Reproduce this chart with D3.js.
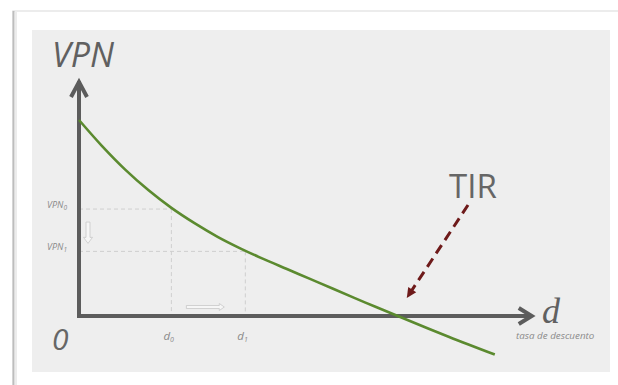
<!DOCTYPE html>
<html><head><meta charset="utf-8">
<script src="https://cdn.jsdelivr.net/npm/d3@7"></script>
<style>
html,body{margin:0;padding:0;background:#fff;}
svg{display:block;}
</style></head>
<body>
<script>
// Data (axis units 0..100)
const discountRates = [0, 5, 10, 15, 20, 25, 30, 35, 40, 45, 50, 55, 62, 69, 80, 90];
const npvValues     = [83.4, 72.3, 62.3, 53.6, 46.0, 39.5, 33.7, 28.7, 24.2, 20.0, 15.8, 11.6, 5.7, 0, -8.8, -16.4];
const refRates      = [20, 36];
const refNPV        = [45.5, 27.5];
const refSubs       = ["0", "1"];
const irrRate       = 69;
const axisMax       = [98, 100];

const W = 618, H = 385;
const svg = d3.select("body").append("svg").attr("width", W).attr("height", H);

// frame
svg.append("rect").attr("x", 13).attr("y", 11).attr("width", 620).attr("height", 390)
  .attr("fill", "#fff").attr("stroke", "#e6e6e6").attr("stroke-width", 1.5);
svg.append("line").attr("x1", 13.5).attr("x2", 13.5).attr("y1", 11).attr("y2", 385)
  .attr("stroke", "#bdbdbd").attr("stroke-width", 2);
svg.append("line").attr("x1", 16).attr("x2", 16).attr("y1", 12).attr("y2", 385)
  .attr("stroke", "#ececec").attr("stroke-width", 2);
svg.append("rect").attr("x", 32).attr("y", 30).attr("width", 578).attr("height", 342)
  .attr("fill", "#eeeeee");

const x = d3.scaleLinear().domain([0, 100]).range([79, 541]);
const y = d3.scaleLinear().domain([0, 100]).range([316, 81]);

// reference dashed lines
const g = svg.append("g");
refRates.forEach((r, i) => {
  g.append("line").attr("x1", x(0)).attr("x2", x(r)).attr("y1", y(refNPV[i])).attr("y2", y(refNPV[i]))
    .attr("stroke", "#cfcfcf").attr("stroke-width", 1).attr("stroke-dasharray", "4,3");
  g.append("line").attr("x1", x(r)).attr("x2", x(r)).attr("y1", y(refNPV[i])).attr("y2", y(0))
    .attr("stroke", "#cfcfcf").attr("stroke-width", 1).attr("stroke-dasharray", "4,3");
  // VPN labels
  const t = g.append("text").attr("x", 67).attr("y", y(refNPV[i]) - 1)
    .attr("text-anchor", "end").attr("font-family", "Open Sans").attr("font-style", "italic")
    .attr("font-size", 9).attr("fill", "#8a8a8a");
  t.append("tspan").text("VPN");
  t.append("tspan").attr("font-size", 6.5).attr("dy", 2).text(refSubs[i]);
  // d labels
  const td = g.append("text").attr("x", x(r) - 8).attr("y", 340)
    .attr("font-family", "Open Sans").attr("font-style", "italic")
    .attr("font-size", 11.5).attr("fill", "#8a8a8a");
  td.append("tspan").text("d");
  td.append("tspan").attr("font-size", 7).attr("dy", 2).text(refSubs[i]);
});

// hollow arrows (decorative)
const ax = x(0) + 9, ay0 = y(refNPV[0]) + 13, ay1 = y(refNPV[1]) - 8;
g.append("path")
  .attr("d", `M${ax-2},${ay0} L${ax+2},${ay0} L${ax+2},${ay1-6} L${ax+4.5},${ay1-6} L${ax},${ay1} L${ax-4.5},${ay1-6} L${ax-2},${ay1-6} Z`)
  .attr("fill", "#f6f6f6").attr("stroke", "#c8c8c8").attr("stroke-width", 0.8);
const bx0 = x(refRates[0]) + 15, bx1 = x(refRates[1]) - 21, by = y(0) - 9;
g.append("path")
  .attr("d", `M${bx0},${by-1.5} L${bx1-5},${by-1.5} L${bx1-5},${by-3.5} L${bx1},${by} L${bx1-5},${by+3.5} L${bx1-5},${by+1.5} L${bx0},${by+1.5} Z`)
  .attr("fill", "#f6f6f6").attr("stroke", "#c8c8c8").attr("stroke-width", 0.8);

// axes
const axisColor = "#5c5c5c";
svg.append("path")
  .attr("d", `M${x(0)},${y(0)+2} L${x(0)},${y(axisMax[1])}`)
  .attr("stroke", axisColor).attr("stroke-width", 4).attr("fill", "none");
svg.append("path")
  .attr("d", `M${x(0)-8},${y(axisMax[1])+16} L${x(0)},${y(axisMax[1])+1} L${x(0)+8},${y(axisMax[1])+16}`)
  .attr("stroke", axisColor).attr("stroke-width", 4).attr("fill", "none").attr("stroke-linejoin", "miter");
svg.append("path")
  .attr("d", `M${x(0)-2},${y(0)} L${x(axisMax[0])},${y(0)}`)
  .attr("stroke", axisColor).attr("stroke-width", 4).attr("fill", "none");
svg.append("path")
  .attr("d", `M${x(axisMax[0])-13},${y(0)-8} L${x(axisMax[0])},${y(0)} L${x(axisMax[0])-13},${y(0)+8}`)
  .attr("stroke", axisColor).attr("stroke-width", 4).attr("fill", "none");

// curve
const line = d3.line().x((d, i) => x(discountRates[i])).y((d, i) => y(npvValues[i])).curve(d3.curveCatmullRom);
svg.append("path").datum(npvValues).attr("d", line)
  .attr("fill", "none").attr("stroke", "#5b8a2f").attr("stroke-width", 2.6);

// TIR arrow
const tipX = x(irrRate) + 9, tipY = y(0) - 18;
const sx = 468, sy = 205;
const ang = Math.atan2(tipY - sy, tipX - sx);
const hl = 11;
svg.append("line").attr("x1", sx).attr("y1", sy)
  .attr("x2", tipX - Math.cos(ang) * 6).attr("y2", tipY - Math.sin(ang) * 6)
  .attr("stroke", "#6e1a1a").attr("stroke-width", 3).attr("stroke-dasharray", "10,6");
svg.append("path")
  .attr("d", `M${tipX},${tipY} L${tipX - hl*Math.cos(ang - 0.45)},${tipY - hl*Math.sin(ang - 0.45)} L${tipX - hl*Math.cos(ang + 0.45)},${tipY - hl*Math.sin(ang + 0.45)} Z`)
  .attr("fill", "#6e1a1a");

// texts
svg.append("text").attr("x", 52).attr("y", 67).text("VPN")
  .attr("font-family", "Open Sans").attr("font-style", "italic").attr("font-size", 34).attr("fill", "#606060");
svg.append("text").attr("x", 52).attr("y", 350).text("0")
  .attr("font-family", "Open Sans").attr("font-style", "italic").attr("font-size", 30).attr("fill", "#666");
svg.append("text").attr("x", 449).attr("y", 198).text("TIR")
  .attr("font-family", "Open Sans").attr("font-size", 33).attr("fill", "#666");
svg.append("text").attr("x", 542).attr("y", 323).text("d")
  .attr("font-family", "Liberation Serif").attr("font-style", "italic").attr("font-size", 36).attr("fill", "#606060");
svg.append("text").attr("x", 516).attr("y", 339).text("tasa de descuento")
  .attr("font-family", "Open Sans").attr("font-style", "italic").attr("font-size", 9.8).attr("fill", "#8a8a8a");
</script>
</body></html>
